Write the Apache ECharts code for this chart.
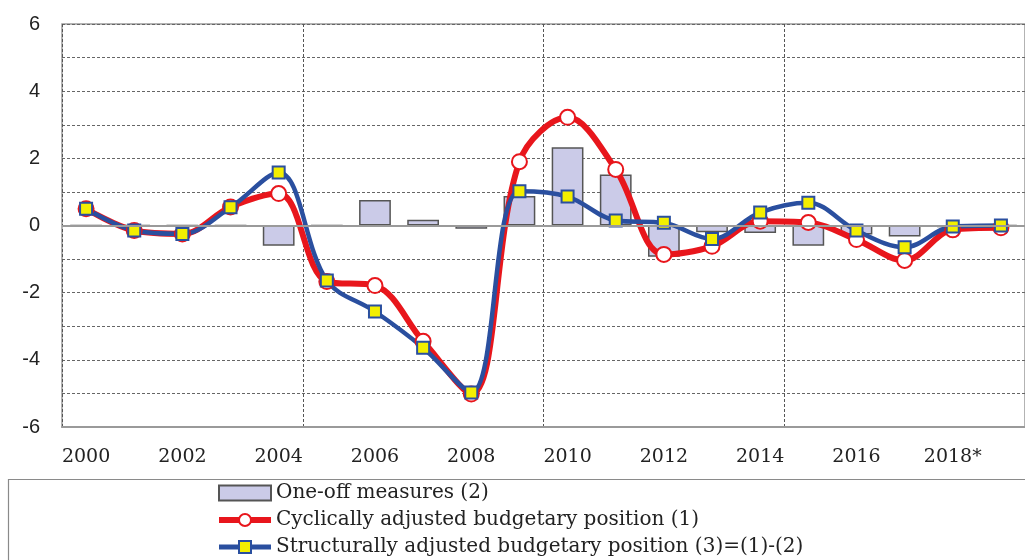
<!DOCTYPE html>
<html>
<head>
<meta charset="utf-8">
<script src="https://cdn.jsdelivr.net/npm/echarts@6/dist/echarts.min.js"></script>
<style>
html,body{margin:0;padding:0;background:#fff;}
#chart{width:1025px;height:560px;}
</style>
</head>
<body>
<div id="chart"></div>
<script>
const years = ['2000','2001','2002','2003','2004','2005','2006','2007','2008','2009','2010','2011','2012','2013','2014','2015','2016','2017','2018*','2019*'];
const oneOff = [0,0,0,0,-0.6,0,0.76,0.17,-0.1,0.88,2.33,1.52,-0.93,-0.2,-0.22,-0.6,-0.27,-0.33,-0.05,0];
const cyclical = [0.5,-0.15,-0.25,0.55,0.95,-1.67,-1.79,-3.45,-5.02,1.9,3.22,1.67,-0.86,-0.62,0.13,0.09,-0.42,-1.04,-0.13,-0.07];
const structural = [0.5,-0.15,-0.25,0.54,1.58,-1.64,-2.56,-3.64,-4.97,1.02,0.86,0.15,0.08,-0.4,0.39,0.68,-0.15,-0.65,-0.03,0.0];
const yTicks = {min:-6, max:6, step:1, labelStep:2};
const names = ['One-off measures (2)','Cyclically adjusted budgetary position (1)','Structurally adjusted budgetary position (3)=(1)-(2)'];

const chart = echarts.init(document.getElementById('chart'));
chart.setOption({
  animation:false,
  backgroundColor:'#fff',
  grid:{left:62, right:-3, top:24, bottom:133, show:true, borderColor:'#9a9a9a', borderWidth:1.5, backgroundColor:'transparent'},
  legend:{
    orient:'vertical', left:211, top:477, height:200, itemWidth:52, itemHeight:15, itemGap:5,
    textStyle:{fontFamily:'DejaVu Serif', fontSize:20, color:'#222', lineHeight:22},
    data:[
      {name:names[0], icon:'rect'},
      {name:names[1], lineStyle:{width:6}},
      {name:names[2], lineStyle:{width:5}}
    ]
  },
  graphic:[{type:'rect', left:6, top:477, shape:{width:1030, height:100}, style:{fill:'none', stroke:'#8a8a8a', lineWidth:1.2}, z:-1}],
  xAxis:{
    type:'category', data:years, boundaryGap:true,
    axisLine:{onZero:false, lineStyle:{color:'#9a9a9a', width:2}},
    axisTick:{show:false},
    axisLabel:{interval:1, margin:21, fontFamily:'DejaVu Serif', fontSize:19, color:'#222'},
    splitLine:{show:true, interval:4, lineStyle:{color:'#555', type:[3,2], width:1}}
  },
  yAxis:{
    type:'value', min:yTicks.min, max:yTicks.max, interval:yTicks.step,
    axisLine:{show:false}, axisTick:{show:false},
    axisLabel:{margin:22, fontFamily:'Liberation Sans', fontSize:20, color:'#222',
      formatter:v => (Math.round(v) % yTicks.labelStep === 0 ? String(v) : '')},
    splitLine:{lineStyle:{color:'#666', type:[3,2], width:1}}
  },
  series:[
    {name:names[0], type:'bar', data:oneOff, barWidth:'66%',
     itemStyle:{color:'#cbcbe8', borderColor:'#555', borderWidth:1.5},
     markLine:{silent:true, symbol:'none', label:{show:false}, data:[{yAxis:0}], lineStyle:{color:'#9a9a9a', type:'solid', width:2}}},
    {name:names[1], type:'line', data:cyclical, smooth:0.35,
     lineStyle:{color:'#e8161c', width:6}, symbol:'circle', symbolSize:15,
     itemStyle:{color:'#ffffff', borderColor:'#e8161c', borderWidth:2}},
    {name:names[2], type:'line', data:structural, smooth:0.35,
     lineStyle:{color:'#2a4f9f', width:4.5}, symbol:'rect', symbolSize:12,
     itemStyle:{color:'#f3ef00', borderColor:'#2a4f9f', borderWidth:2}}
  ]
});
</script>
</body>
</html>
